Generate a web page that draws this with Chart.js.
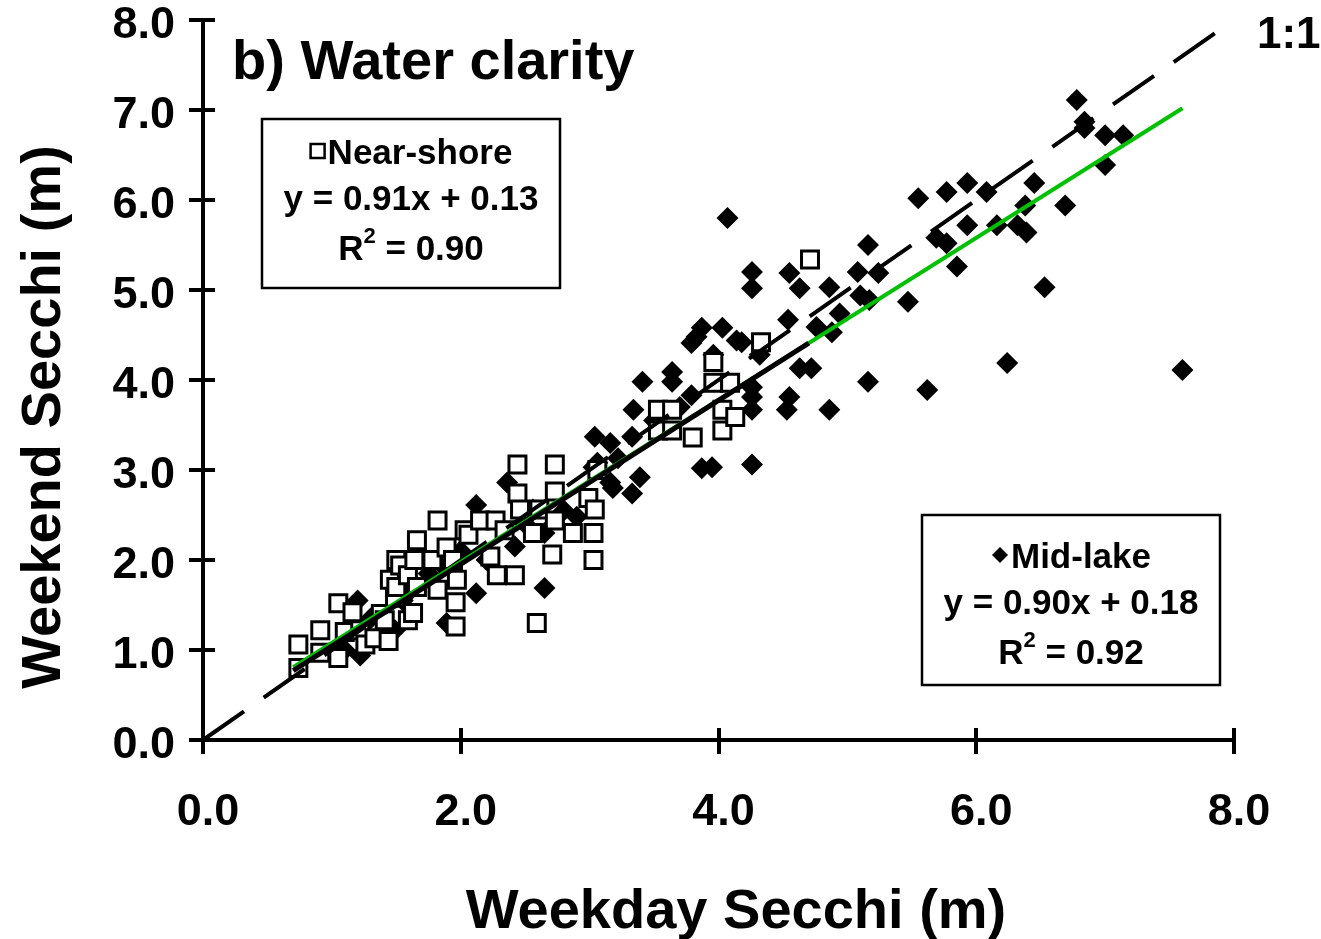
<!DOCTYPE html>
<html>
<head>
<meta charset="utf-8">
<title>b) Water clarity</title>
<script src="https://cdn.jsdelivr.net/npm/chart.js@4.4.1/dist/chart.umd.min.js"></script>
<style>
  html, body { margin: 0; padding: 0; background: #fff; }
  #wrap { width: 1321px; height: 939px; }
</style>
</head>
<body>
<div id="wrap"><canvas id="secchiChart" width="1321" height="939"></canvas></div>
<script>
// Near-shore stations (open squares), weekday vs weekend Secchi depth (m)
const nearX = [0.74, 0.74, 0.91, 0.91, 1.05, 1.05, 1.10, 1.16, 1.22, 1.26, 1.33, 1.38, 1.41, 1.44,
  1.45, 1.49, 1.50, 1.50, 1.53, 1.59, 1.59, 1.63, 1.64, 1.66, 1.66, 1.78, 1.82, 1.82, 1.89, 1.94,
  1.96, 1.96, 1.97, 2.03, 2.06, 2.15, 2.23, 2.27, 2.28, 2.34, 2.42, 2.44, 2.44, 2.46, 2.56, 2.59,
  2.61, 2.71, 2.73, 2.73, 2.73, 2.87, 2.99, 3.03, 3.03, 3.04, 3.06, 3.53, 3.64, 3.53, 3.64, 3.80,
  3.96, 3.96, 4.03, 4.03, 4.09, 4.13, 4.33, 4.71];
const nearY = [1.06, 0.80, 1.22, 0.97, 1.52, 0.91, 1.20, 1.42, 1.22, 1.06, 1.13, 1.40, 1.33, 1.10,
  1.78, 1.58, 2.00, 1.70, 1.94, 1.33, 1.83, 1.41, 2.00, 2.22, 1.70, 2.00, 2.44, 1.67, 2.14, 2.00,
  1.53, 1.26, 1.78, 2.33, 2.28, 2.44, 2.04, 2.44, 1.83, 2.33, 1.83, 3.06, 2.74, 2.56, 2.30, 1.30,
  2.56, 2.06, 3.06, 2.76, 2.44, 2.30, 2.69, 2.30, 2.00, 2.56, 3.00, 3.67, 3.67, 3.44, 3.44, 3.36,
  4.20, 3.97, 3.67, 3.44, 3.97, 3.59, 4.42, 5.34];

// Mid-lake stations (filled diamonds)
const midX = [1.10, 1.20, 1.22, 1.30, 1.40, 1.49, 1.55, 1.60, 1.75, 1.85, 1.89, 2.00, 2.12, 2.12,
  2.20, 2.36, 2.42, 2.50, 2.56, 2.65, 2.65, 2.80, 2.90, 3.03, 3.04, 3.06, 3.16, 3.16, 3.18, 3.22,
  3.33, 3.33, 3.34, 3.39, 3.41, 3.50, 3.64, 3.64, 3.70, 3.79, 3.79, 3.83, 3.87, 3.87, 3.95, 3.96,
  4.03, 4.07, 4.14, 4.18, 4.26, 4.26, 4.26, 4.26, 4.26, 4.26, 4.32, 4.53, 4.55, 4.54, 4.55, 4.63,
  4.63, 4.72, 4.76, 4.86, 4.86, 4.88, 4.94, 5.08, 5.10, 5.16, 5.16, 5.17, 5.24, 5.47, 5.55, 5.62,
  5.69, 5.77, 5.77, 5.85, 5.93, 5.93, 6.08, 6.16, 6.24, 6.32, 6.38, 6.39, 6.45, 6.53, 6.69, 6.78,
  6.84, 6.84, 7.00, 7.00, 7.14, 7.60];
const midY = [1.00, 1.55, 0.94, 1.35, 1.20, 1.22, 1.55, 1.65, 1.85, 1.95, 1.30, 2.10, 2.61, 1.63,
  2.00, 2.86, 2.15, 2.40, 2.56, 2.30, 1.69, 2.55, 2.48, 3.03, 3.37, 3.08, 2.86, 3.30, 2.80, 3.13,
  3.37, 2.74, 3.67, 2.92, 3.98, 3.55, 4.09, 3.98, 3.70, 4.41, 3.83, 4.48, 4.58, 3.02, 3.03, 4.28,
  4.58, 5.80, 4.44, 4.42, 5.20, 5.02, 3.92, 3.81, 3.67, 3.06, 4.28, 3.67, 5.19, 4.67, 3.81, 5.02,
  4.13, 4.13, 4.59, 5.03, 3.67, 4.53, 4.74, 5.20, 4.94, 5.50, 3.98, 4.89, 5.19, 4.87, 6.02, 3.89,
  5.58, 6.09, 5.52, 5.26, 6.19, 5.72, 6.09, 5.72, 4.19, 5.72, 5.94, 5.64, 6.19, 5.03, 5.94, 7.11,
  6.87, 6.80, 6.72, 6.39, 6.72, 4.11];

// Trend line ends as drawn, and the 1:1 reference
const nearFitX = [0.70, 4.70];
const nearFitY = [0.77, 4.41];
const midFitX = [0.70, 7.60];
const midFitY = [0.81, 7.02];
const oneX = [0, 8];
const oneY = [0, 8];

const xTicks = [0, 2, 4, 6, 8];
const yTicks = [0, 1, 2, 3, 4, 5, 6, 7, 8];

const FONT = '"Liberation Sans", Arial, Helvetica, sans-serif';
const pts = (xs, ys) => xs.map((x, i) => ({ x: x, y: ys[i] }));

// extra drawing: crossing tick marks, titles and the two equation boxes
const decorations = {
  id: "decorations",
  afterDraw(chart) {
    const ctx = chart.ctx;
    const a = chart.chartArea;
    const xs = chart.scales.x;
    const ys = chart.scales.y;

    ctx.save();
    ctx.strokeStyle = "#000";
    ctx.lineWidth = 4;
    ctx.beginPath();
    yTicks.forEach(v => {
      const py = Math.round(ys.getPixelForValue(v));
      ctx.moveTo(a.left - 14, py);
      ctx.lineTo(a.left + 12, py);
    });
    xTicks.forEach(v => {
      const px = Math.round(xs.getPixelForValue(v));
      ctx.moveTo(px, a.bottom - 12);
      ctx.lineTo(px, a.bottom + 14);
    });
    ctx.stroke();

    ctx.fillStyle = "#000";
    // axis titles
    ctx.font = "bold 56px " + FONT;
    ctx.textAlign = "center";
    ctx.textBaseline = "alphabetic";
    ctx.fillText("Weekday Secchi (m)", 736, 928);
    ctx.save();
    ctx.translate(60, 417);
    ctx.rotate(-Math.PI / 2);
    ctx.fillText("Weekend Secchi (m)", 0, 0);
    ctx.restore();

    // panel title and 1:1 label
    ctx.textAlign = "left";
    ctx.font = "bold 56px " + FONT;
    ctx.fillText("b) Water clarity", 232, 79);
    ctx.font = "bold 44px " + FONT;
    ctx.fillText("1:1", 1257, 48);

    drawBox(ctx, 262, 119, 298, 169, 0, "near", "Near-shore", "y = 0.91x + 0.13", "0.90");
    drawBox(ctx, 922, 515, 298, 170, 8, "mid", "Mid-lake", "y = 0.90x + 0.18", "0.92");
    ctx.restore();
  }
};

function drawBox(ctx, x, y, w, h, dy, kind, name, eq, r2) {
  const cx = x + w / 2;
  ctx.fillStyle = "#fff";
  ctx.fillRect(x, y, w, h);
  ctx.strokeStyle = "#000";
  ctx.lineWidth = 2.5;
  ctx.strokeRect(x, y, w, h);

  y += dy;
  ctx.fillStyle = "#000";
  ctx.font = "bold 35px " + FONT;
  ctx.textBaseline = "alphabetic";

  // first line: symbol + series name
  const nameW = ctx.measureText(name).width;
  const symW = kind === "near" ? 18 : 20;
  const start = cx - (nameW + symW) / 2;
  if (kind === "near") {
    ctx.lineWidth = 2.5;
    ctx.strokeRect(start + 1, y + 25, 14, 14);
  } else {
    ctx.beginPath();
    ctx.moveTo(start + 9, y + 24);
    ctx.lineTo(start + 17, y + 32);
    ctx.lineTo(start + 9, y + 40);
    ctx.lineTo(start + 1, y + 32);
    ctx.closePath();
    ctx.fill();
  }
  ctx.textAlign = "left";
  ctx.fillText(name, start + symW, y + 45);

  // equation
  ctx.textAlign = "center";
  ctx.fillText(eq, cx, y + 91);

  // R squared with superscript
  const rest = " = " + r2;
  const rW = ctx.measureText("R").width;
  const restW = ctx.measureText(rest).width;
  ctx.font = "bold 22px " + FONT;
  const supW = ctx.measureText("2").width;
  const left = cx - (rW + supW + restW) / 2;
  ctx.textAlign = "left";
  ctx.fillText("2", left + rW, y + 124);
  ctx.font = "bold 35px " + FONT;
  ctx.fillText("R", left, y + 141);
  ctx.fillText(rest, left + rW + supW, y + 141);
}

const ctx = document.getElementById("secchiChart").getContext("2d");
new Chart(ctx, {
  type: "scatter",
  data: {
    datasets: [
      {
        type: "line",
        label: "Near-shore fit",
        data: pts(nearFitX, nearFitY),
        borderColor: "#000",
        borderWidth: 5,
        pointRadius: 0
      },
      {
        type: "line",
        label: "Mid-lake fit",
        data: pts(midFitX, midFitY),
        borderColor: "#00c000",
        borderWidth: 4,
        pointRadius: 0
      },
      {
        type: "line",
        label: "1:1",
        data: pts(oneX, oneY),
        borderColor: "#000",
        borderWidth: 4,
        borderDash: [50, 24],
        pointRadius: 0,
        clip: false
      },
      {
        label: "Near-shore",
        data: pts(nearX, nearY),
        pointStyle: "rect",
        pointRadius: 12,
        borderWidth: 3,
        borderColor: "#000",
        backgroundColor: "#fff"
      },
      {
        label: "Mid-lake",
        data: pts(midX, midY),
        pointStyle: "rectRot",
        pointRadius: 11,
        borderWidth: 0,
        backgroundColor: "#000"
      }
    ]
  },
  options: {
    responsive: false,
    animation: false,
    events: [],
    layout: { padding: { left: 0, right: 87, top: 20, bottom: 0 } },
    scales: {
      x: {
        type: "linear",
        min: 0,
        max: 8,
        afterBuildTicks: s => { s.ticks = xTicks.map(v => ({ value: v })); },
        afterFit: s => { s.height = 199; s.paddingLeft = 0; s.paddingRight = 0; },
        grid: { display: false, drawTicks: false },
        border: { display: true, color: "#000", width: 4 },
        ticks: {
          autoSkip: false,
          padding: 46,
          labelOffset: 5,
          color: "#000",
          font: { family: FONT, size: 45, weight: "bold" },
          callback: v => Number(v).toFixed(1)
        }
      },
      y: {
        type: "linear",
        min: 0,
        max: 8,
        afterBuildTicks: s => { s.ticks = yTicks.map(v => ({ value: v })); },
        afterFit: s => { s.width = 203; s.paddingTop = 0; s.paddingBottom = 0; },
        grid: { display: false, drawTicks: false },
        border: { display: true, color: "#000", width: 4 },
        ticks: {
          autoSkip: false,
          padding: 28,
          labelOffset: 6,
          color: "#000",
          font: { family: FONT, size: 45, weight: "bold" },
          callback: v => Number(v).toFixed(1)
        }
      }
    },
    plugins: {
      legend: { display: false },
      tooltip: { enabled: false },
      title: { display: false }
    }
  },
  plugins: [decorations]
});
</script>
</body>
</html>
